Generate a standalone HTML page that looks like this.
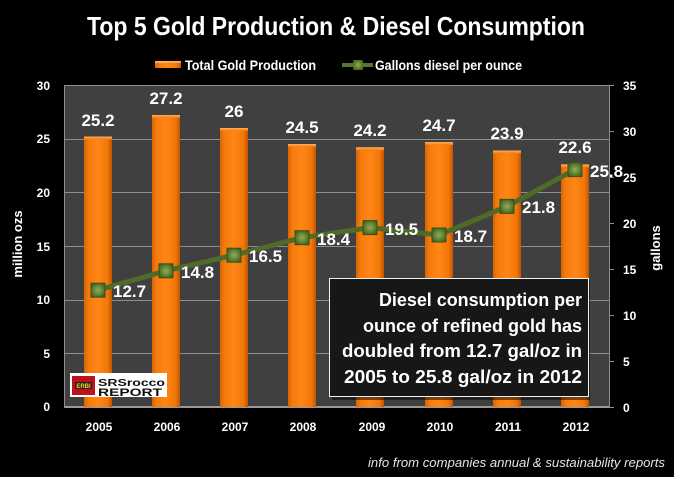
<!DOCTYPE html>
<html><head><meta charset="utf-8"><style>
html,body{margin:0;padding:0;background:#000;}
svg{display:block;}
text{font-family:"Liberation Sans",Arial,sans-serif;}
</style></head><body>
<svg width="674" height="477" viewBox="0 0 674 477" xmlns="http://www.w3.org/2000/svg">
<defs>
<linearGradient id="bar" x1="0" x2="1" y1="0" y2="0">
<stop offset="0" stop-color="#d86400"/>
<stop offset="0.15" stop-color="#f47a0c"/>
<stop offset="0.5" stop-color="#ff8616"/>
<stop offset="0.85" stop-color="#f07608"/>
<stop offset="1" stop-color="#c05400"/>
</linearGradient>
<linearGradient id="bartop" x1="0" x2="0" y1="0" y2="1">
<stop offset="0" stop-color="#ffb060"/>
<stop offset="1" stop-color="#f47a0c"/>
</linearGradient>
<radialGradient id="mk" cx="0.5" cy="0.5" r="0.6">
<stop offset="0" stop-color="#8fae5c"/>
<stop offset="0.6" stop-color="#5f8030"/>
<stop offset="1" stop-color="#3f5a1c"/>
</radialGradient>
</defs>
<rect width="674" height="477" fill="#000"/>
<!-- title -->
<text x="336" y="35" font-size="26" font-weight="bold" fill="#fff" text-anchor="middle" textLength="498" lengthAdjust="spacingAndGlyphs">Top 5 Gold Production &amp; Diesel Consumption</text>
<!-- legend -->
<rect x="155" y="61" width="26" height="7" fill="url(#bar)"/>
<rect x="155" y="61" width="26" height="2" fill="#ffa850"/>
<text x="185" y="70" font-size="14" font-weight="bold" fill="#fff" textLength="131" lengthAdjust="spacingAndGlyphs">Total Gold Production</text>
<line x1="342" y1="65" x2="373" y2="65" stroke="#567530" stroke-width="4"/>
<rect x="353" y="60" width="10" height="10" fill="url(#mk)"/>
<text x="375" y="70" font-size="14" font-weight="bold" fill="#fff" textLength="147" lengthAdjust="spacingAndGlyphs">Gallons diesel per ounce</text>
<!-- plot area -->
<rect x="64" y="85" width="545" height="322" fill="#404040"/>
<g stroke="#8e8e8e" stroke-width="1">
<line x1="64" y1="85.5" x2="609" y2="85.5"/>
<line x1="64" y1="139.5" x2="609" y2="139.5"/>
<line x1="64" y1="192.5" x2="609" y2="192.5"/>
<line x1="64" y1="246.5" x2="609" y2="246.5"/>
<line x1="64" y1="300.5" x2="609" y2="300.5"/>
<line x1="64" y1="353.5" x2="609" y2="353.5"/>
</g>
<line x1="64" y1="407" x2="609" y2="407" stroke="#9a9a9a" stroke-width="2"/>
<line x1="64.5" y1="85" x2="64.5" y2="408" stroke="#8e8e8e" stroke-width="1"/>
<line x1="609.5" y1="85" x2="609.5" y2="408" stroke="#8e8e8e" stroke-width="1"/>
<g stroke="#8e8e8e" stroke-width="1">
<line x1="609" y1="85.5" x2="614" y2="85.5"/>
<line x1="609" y1="131.5" x2="614" y2="131.5"/>
<line x1="609" y1="177.5" x2="614" y2="177.5"/>
<line x1="609" y1="223.5" x2="614" y2="223.5"/>
<line x1="609" y1="269.5" x2="614" y2="269.5"/>
<line x1="609" y1="315.5" x2="614" y2="315.5"/>
<line x1="609" y1="361.5" x2="614" y2="361.5"/>
<line x1="609" y1="407.5" x2="614" y2="407.5"/>
</g>
<!-- bars: centers 98 + i*68.1 -->
<g>
<rect x="84" y="136.5" width="28" height="270.5" fill="url(#bar)"/><rect x="84" y="136.5" width="28" height="3" fill="url(#bartop)"/>
<rect x="152" y="115" width="28" height="292" fill="url(#bar)"/><rect x="152" y="115" width="28" height="3" fill="url(#bartop)"/>
<rect x="220" y="128" width="28" height="279" fill="url(#bar)"/><rect x="220" y="128" width="28" height="3" fill="url(#bartop)"/>
<rect x="288" y="144" width="28" height="263" fill="url(#bar)"/><rect x="288" y="144" width="28" height="3" fill="url(#bartop)"/>
<rect x="356" y="147.3" width="28" height="259.7" fill="url(#bar)"/><rect x="356" y="147.3" width="28" height="3" fill="url(#bartop)"/>
<rect x="425" y="142" width="28" height="265" fill="url(#bar)"/><rect x="425" y="142" width="28" height="3" fill="url(#bartop)"/>
<rect x="493" y="150.5" width="28" height="256.5" fill="url(#bar)"/><rect x="493" y="150.5" width="28" height="3" fill="url(#bartop)"/>
<rect x="561" y="164.4" width="28" height="242.6" fill="url(#bar)"/><rect x="561" y="164.4" width="28" height="3" fill="url(#bartop)"/>
</g>
<!-- bar labels -->
<g font-size="17" font-weight="bold" fill="#fff" text-anchor="middle">
<text x="98" y="126">25.2</text>
<text x="166" y="104">27.2</text>
<text x="234" y="117">26</text>
<text x="302" y="133">24.5</text>
<text x="370" y="136">24.2</text>
<text x="439" y="131">24.7</text>
<text x="507" y="139">23.9</text>
<text x="575" y="153">22.6</text>
</g>
<!-- line -->
<polyline points="98,290.2 166,270.8 234,255.2 302,237.7 370,227.6 439,235 507,206.4 575,169.6" fill="none" stroke="#4f6b28" stroke-width="5" stroke-linejoin="round"/>
<g stroke="#3a5218" stroke-width="1">
<rect x="91" y="283.2" width="14" height="14" fill="url(#mk)"/>
<rect x="159" y="263.8" width="14" height="14" fill="url(#mk)"/>
<rect x="227" y="248.2" width="14" height="14" fill="url(#mk)"/>
<rect x="295" y="230.7" width="14" height="14" fill="url(#mk)"/>
<rect x="363" y="220.6" width="14" height="14" fill="url(#mk)"/>
<rect x="432" y="228" width="14" height="14" fill="url(#mk)"/>
<rect x="500" y="199.4" width="14" height="14" fill="url(#mk)"/>
<rect x="568" y="162.6" width="14" height="14" fill="url(#mk)"/>
</g>
<g font-size="17" font-weight="bold" fill="#fff">
<text x="113" y="297">12.7</text>
<text x="181" y="278">14.8</text>
<text x="249" y="262">16.5</text>
<text x="317" y="245">18.4</text>
<text x="385" y="235">19.5</text>
<text x="454" y="242">18.7</text>
<text x="522" y="213">21.8</text>
<text x="590" y="177">25.8</text>
</g>
<!-- left axis labels -->
<g font-size="12" font-weight="bold" fill="#fff" text-anchor="end">
<text x="50" y="90">30</text>
<text x="50" y="143">25</text>
<text x="50" y="197">20</text>
<text x="50" y="251">15</text>
<text x="50" y="304">10</text>
<text x="50" y="358">5</text>
<text x="50" y="411">0</text>
</g>
<!-- right axis labels -->
<g font-size="12" font-weight="bold" fill="#fff">
<text x="623" y="90">35</text>
<text x="623" y="136">30</text>
<text x="623" y="182">25</text>
<text x="623" y="228">20</text>
<text x="623" y="274">15</text>
<text x="623" y="320">10</text>
<text x="623" y="366">5</text>
<text x="623" y="412">0</text>
</g>
<text transform="translate(22,244) rotate(-90)" font-size="13" font-weight="bold" fill="#fff" text-anchor="middle">million ozs</text>
<text transform="translate(660,248) rotate(-90)" font-size="13" font-weight="bold" fill="#fff" text-anchor="middle">gallons</text>
<!-- x labels -->
<g font-size="12" font-weight="bold" fill="#fff" text-anchor="middle">
<text x="99" y="431">2005</text>
<text x="167" y="431">2006</text>
<text x="235" y="431">2007</text>
<text x="303" y="431">2008</text>
<text x="372" y="431">2009</text>
<text x="440" y="431">2010</text>
<text x="508" y="431">2011</text>
<text x="576" y="431">2012</text>
</g>
<!-- logo -->
<rect x="70" y="373" width="97" height="24" fill="#fff"/>
<rect x="72" y="376" width="23" height="19" fill="#c0101a"/>
<rect x="75" y="382" width="17" height="7" fill="#222"/>
<text x="83.5" y="388" font-size="6" font-weight="bold" fill="#ffd020" text-anchor="middle">ERBI</text>
<text x="98" y="386" font-size="10" font-weight="bold" fill="#111" textLength="67" lengthAdjust="spacingAndGlyphs">SRSrocco</text>
<text x="98" y="396" font-size="11" font-weight="bold" fill="#111" textLength="64" lengthAdjust="spacingAndGlyphs">REPORT</text>
<!-- annotation box -->
<rect x="332" y="281" width="258" height="119" fill="#000" opacity="0.5"/>
<rect x="329.5" y="278.5" width="259" height="118" fill="#171717" stroke="#f0f0f0" stroke-width="1"/>
<g font-size="18" font-weight="bold" fill="#fff" text-anchor="end">
<text x="582" y="306" textLength="203" lengthAdjust="spacingAndGlyphs">Diesel consumption per</text>
<text x="582" y="332" textLength="219" lengthAdjust="spacingAndGlyphs">ounce of refined gold has</text>
<text x="582" y="357" textLength="240" lengthAdjust="spacingAndGlyphs">doubled from 12.7 gal/oz in</text>
<text x="582" y="383" textLength="238" lengthAdjust="spacingAndGlyphs">2005 to 25.8 gal/oz in 2012</text>
</g>
<!-- footer -->
<text x="665" y="467" font-size="13" font-style="italic" fill="#e6e6e6" text-anchor="end" textLength="297" lengthAdjust="spacingAndGlyphs">info from companies annual &amp; sustainability reports</text>
</svg>
</body></html>
